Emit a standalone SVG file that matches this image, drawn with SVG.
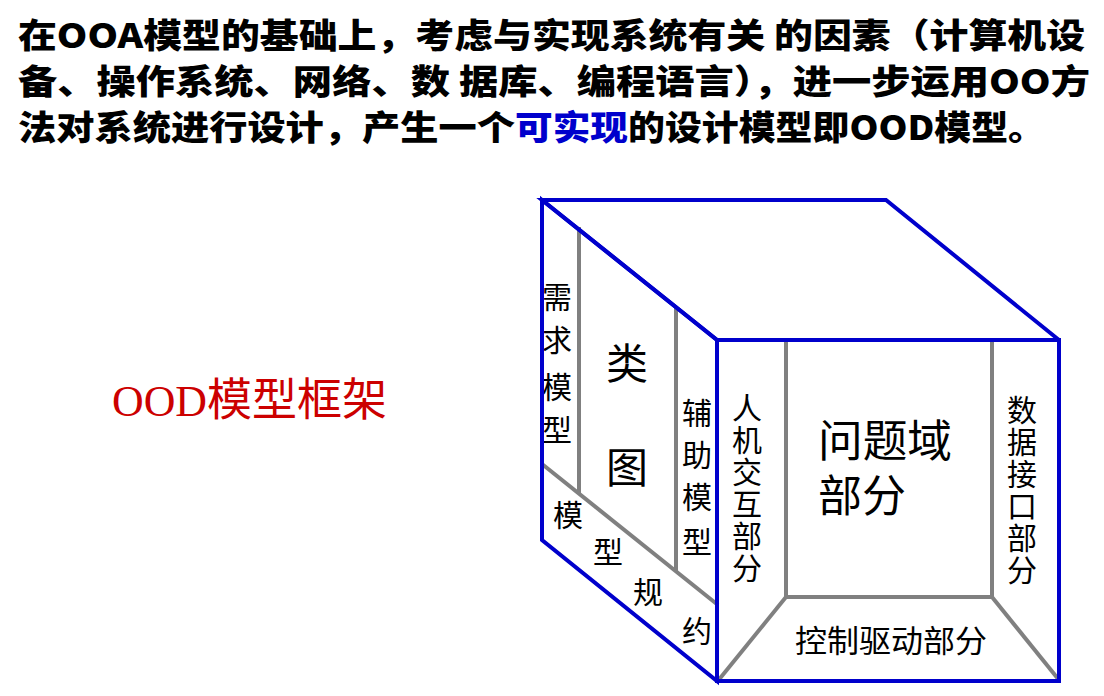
<svg xmlns="http://www.w3.org/2000/svg" width="1104" height="696" viewBox="0 0 1104 696">
<style>
.title{font-family:"Noto Sans CJK SC","Liberation Sans",sans-serif;font-weight:900;font-size:34px;fill:#000}
.blue{fill:#0000cc}
.lbl{font-family:"Noto Sans CJK SC","Liberation Sans",sans-serif;font-size:30px;fill:#000;text-anchor:middle}
.lbl2{font-family:"Noto Sans CJK SC","Liberation Sans",sans-serif;font-size:30px;fill:#000;text-anchor:middle}
.lbl3{font-family:"Noto Sans CJK SC","Liberation Sans",sans-serif;font-size:42px;fill:#000;text-anchor:middle}
.big{font-family:"Noto Sans CJK SC","Liberation Sans",sans-serif;font-size:44px;fill:#000}
.edge{stroke:#0000cc;stroke-width:4;fill:none;stroke-linejoin:miter}
.div{stroke:#808080;stroke-width:4;fill:none}
</style>
<rect width="1104" height="696" fill="#fff"/>
<g id="title">
<text class="title" x="18" y="48" textLength="1067" lengthAdjust="spacingAndGlyphs">在OOA模型的基础上，考虑与实现系统有关 的因素（计算机设</text>
<text class="title" x="18" y="94" textLength="1072" lengthAdjust="spacingAndGlyphs">备、操作系统、网络、数 据库、编程语言），进一步运用OO方</text>
<text class="title" x="18" y="140" textLength="497" lengthAdjust="spacingAndGlyphs">法对系统进行设计，产生一个</text>
<text class="title blue" x="515" y="140" textLength="113" lengthAdjust="spacingAndGlyphs">可实现</text>
<text class="title" x="628" y="140" textLength="417" lengthAdjust="spacingAndGlyphs">的设计模型即OOD模型。</text>
</g>
<g id="ood-label">
<text x="112" y="416" fill="#cc0000" font-size="45"><tspan font-family="'Liberation Serif',serif" textLength="95" lengthAdjust="spacingAndGlyphs">OOD</tspan><tspan x="207" font-family="'Noto Sans CJK SC',sans-serif" textLength="180" lengthAdjust="spacingAndGlyphs">模型框架</tspan></text>
</g>
<g id="cube">
<g id="left-face">
<line class="div" x1="579" y1="227" x2="579" y2="493"/>
<line class="div" x1="676" y1="306" x2="676" y2="572"/>
<line class="div" x1="542" y1="464" x2="718" y2="605"/>
<text class="lbl"><tspan x="557" y="308">需</tspan><tspan x="557" y="351">求</tspan><tspan x="557" y="398">模</tspan><tspan x="557" y="441">型</tspan></text>
<text class="lbl3"><tspan x="627" y="379">类</tspan><tspan x="627" y="483">图</tspan></text>
<text class="lbl"><tspan x="697" y="424">辅</tspan><tspan x="697" y="466">助</tspan><tspan x="697" y="508">模</tspan><tspan x="697" y="553">型</tspan></text>
<text class="lbl"><tspan x="568" y="526">模</tspan><tspan x="608" y="563">型</tspan><tspan x="648" y="603">规</tspan><tspan x="697" y="642">约</tspan></text>
</g>
<g id="front-face">
<rect class="div" x="786" y="340" width="206" height="257"/>
<line class="div" x1="786" y1="597" x2="717" y2="682"/>
<line class="div" x1="992" y1="597" x2="1059" y2="680"/>
<text class="lbl2"><tspan x="747" y="419">人</tspan><tspan x="747" y="451">机</tspan><tspan x="747" y="483">交</tspan><tspan x="747" y="515">互</tspan><tspan x="747" y="547">部</tspan><tspan x="747" y="579">分</tspan></text>
<text class="big" x="818" y="457" textLength="134" lengthAdjust="spacingAndGlyphs">问题域</text>
<text class="big" x="818" y="512">部分</text>
<text class="lbl2"><tspan x="1022" y="421">数</tspan><tspan x="1022" y="453">据</tspan><tspan x="1022" y="485">接</tspan><tspan x="1022" y="517">口</tspan><tspan x="1022" y="549">部</tspan><tspan x="1022" y="581">分</tspan></text>
<text x="795" y="652" font-family="'Noto Sans CJK SC',sans-serif" font-size="31" textLength="192" lengthAdjust="spacingAndGlyphs">控制驱动部分</text>
</g>
<g id="edges">
<polyline class="edge" points="717,340 542,200 886,200 1059,340"/>
<polygon class="edge" points="542,200 717,340 717,681 542,540"/>
<rect class="edge" x="717" y="340" width="342" height="341"/>
</g>
</g>
</svg>
